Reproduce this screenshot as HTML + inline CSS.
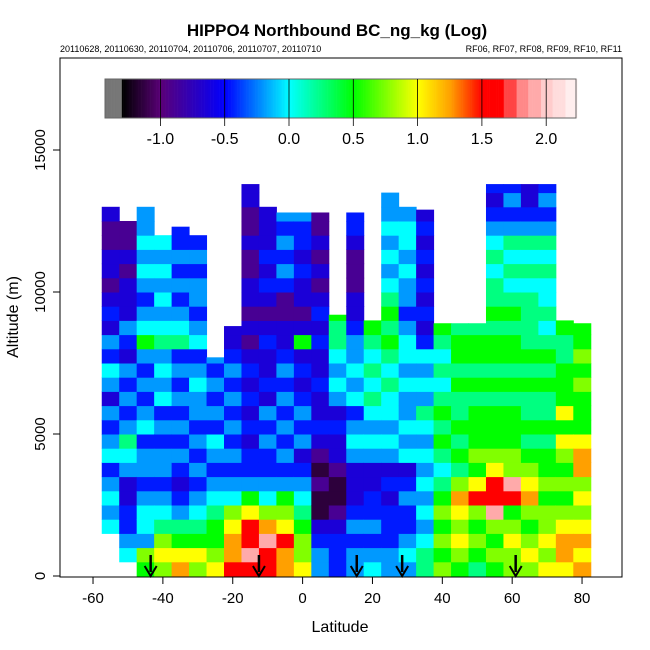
<!DOCTYPE html>
<html><head><meta charset="utf-8">
<style>
body{margin:0;background:#fff;}
svg{display:block;font-family:"Liberation Sans",sans-serif;}
</style></head>
<body>
<svg id="chart" width="650" height="650" viewBox="0 0 650 650">
<rect width="650" height="650" fill="#fff"/>
<g id="heat"></g>
<g id="cbar"></g>
<g id="axes"></g>
<text x="337" y="36" font-size="17" font-weight="bold" text-anchor="middle">HIPPO4 Northbound BC_ng_kg (Log)</text>
<text x="60" y="52" font-size="9">20110628, 20110630, 20110704, 20110706, 20110707, 20110710</text>
<text x="622" y="52" font-size="9" text-anchor="end">RF06, RF07, RF08, RF09, RF10, RF11</text>
<text x="340" y="632" font-size="16" text-anchor="middle">Latitude</text>
<text transform="translate(18,317) rotate(-90)" font-size="16" text-anchor="middle">Altitude (m)</text>
</svg>
<script>
// ---- data ----
const latCenters = [-55,-50,-45,-40,-35,-30,-25,-20,-15,-10,-5,0,5,10,15,20,25,30,35,40,45,50,55,60,65,70,75,80];
const tops = [13000,12500,13000,12000,12300,12000,7700,8800,13800,13000,12800,12800,12800,9200,12800,9000,13500,13000,12900,8900,8900,8900,13800,13800,13800,13800,9000,8900];
const bottoms = [1500,500,0,0,0,0,0,0,0,0,0,0,0,0,0,0,0,0,0,0,0,0,0,0,0,0,0,0];
// per-column profiles, 500 m bins from ground up (groups of 4 bins = 2000 m)
const profiles = [
"6765 4543 5434 2453 4232 1221 1211",
"6543 3224 5643 4342 3422 2121 1111",
"7845 5434 4354 3434 7543 4545 4434",
"8986 5434 4343 5454 6545 4545 3433",
"o976 4323 4343 4343 6543 4343 3433",
"8976 5434 3434 4543 5434 4343 4343",
"9877 6543 4534 3434 3333 3333 3333",
"roo9 8543 4343 4343 2212 2222 2222",
"rprr 9743 3232 3232 1212 2112 1122",
"rrpo 8543 3434 2322 3212 3232 2222",
"oor9 8743 4343 4343 2211 3434 3434",
"9887 6543 2434 3232 7212 2323 3434",
"4432 0010 1232 2322 3232 1212 1122",
"3332 1001 2232 4545 6676 6666 6666",
"4434 3222 4543 5454 4322 1112 3344",
"5434 3322 4545 6565 6776 7676 6767",
"4433 3232 4545 5656 7676 5454 5445",
"4543 3432 5454 4545 5434 4545 5454",
"6654 5454 5456 4545 3232 3232 3232",
"8787 8765 6767 6565 6767 6666 6666",
"7898 9o86 7676 6767 7676 6666 6666",
"6787 8r97 8777 6767 7676 6767 6666",
"7878 prr9 8777 6767 7676 6565 4323",
"8898 7rp8 8777 6767 7676 5656 4343",
"8987 8o98 7676 6767 6666 5656 4322",
"9898 8787 7676 6767 6565 5656 4343",
"9oo9 8787 8979 7776 6767 6666 6666",
"o9o9 898o o977 7878 7777 6666 6666"
];
const levelSymbols = ["0","1","2","3","4","5","6","7","8","9","o","r","p"];
const levelValues  = [-1.15,-0.9,-0.65,-0.45,-0.2,0.0,0.25,0.5,0.75,1.0,1.25,1.5,1.9];
const arrowLats = [-43.5,-12.5,15.5,28.5,61];
const xTicks = [-60,-40,-20,0,20,40,60,80];
const yTicks = [0,5000,10000,15000];
const cbTicks = [-1.0,-0.5,0.0,0.5,1.0,1.5,2.0];
const cbLabels = ["-1.0","-0.5","0.0","0.5","1.0","1.5","2.0"];

// ---- scales ----
const X0=60,X1=622,Y0=58,Y1=577;
const xs = lat => 302.6 + lat*3.493;
const ys = alt => 576 - alt*0.0284;
const cbx = v => 289 + v*128.6;
const NS="http://www.w3.org/2000/svg";
function el(tag, attrs, parent){const e=document.createElementNS(NS,tag);for(const k in attrs)e.setAttribute(k,attrs[k]);parent.appendChild(e);return e;}

const stops=[[-1.3,[0,0,0]],[-1.0,[90,0,120]],[-0.5,[0,0,255]],[-0.25,[0,128,255]],[0,[0,255,255]],[0.5,[0,255,0]],[0.85,[180,255,0]],[1.0,[255,255,0]],[1.25,[255,160,0]],[1.5,[255,0,0]]];
function color(v){
  if(v<-1.3)return "#777";
  if(v>=1.67){const p=["#ff4444","#ff8888","#ffaaaa","#ffcccc","#ffdddd","#ffeeee"];return p[Math.min(5,Math.floor((v-1.67)/0.094))];}
  if(v>=1.5)return "#ff0000";
  for(let i=0;i<stops.length-1;i++){const a=stops[i],b=stops[i+1];if(v<=b[0]){const t=(v-a[0])/(b[0]-a[0]);const c=a[1].map((x,j)=>Math.round(x+(b[1][j]-x)*t));return `rgb(${c})`;}}
  return "#ff0000";
}

// ---- heatmap ----
const heat=document.getElementById('heat');
latCenters.forEach((lat,ci)=>{
  const prof=profiles[ci].replace(/\s+/g,'');
  for(let r=0;r<28;r++){
    const lo=r*500, hi=(r+1)*500;
    if(hi<=bottoms[ci]||lo>=tops[ci])continue;
    const sym=prof[r]||prof[prof.length-1];
    const v=levelValues[levelSymbols.indexOf(sym)];
    const a=Math.max(lo,bottoms[ci]), b=Math.min(hi,tops[ci]);
    const x0=xs(lat-2.5), x1=xs(lat+2.5)+0.5;
    const rc=el('rect',{x:x0,y:ys(b),width:x1-x0,height:ys(a)-ys(b)+0.5,fill:color(v)},heat);
    
    
  }
});
arrowLats.forEach(lat=>{
  const g=el('g',{},heat);
  
  
  const x=xs(lat);
  el('line',{x1:x,y1:555,x2:x,y2:572,stroke:"#000","stroke-width":2.5},g);
  el('path',{d:`M${x-6},${566} L${x},${576} L${x+6},${566}`,fill:"none",stroke:"#000","stroke-width":2},g);
});

// ---- colorbar ----
const cb=document.getElementById('cbar');
for(let v=-1.43;v<2.23;v+=0.01){
  const r=el('rect',{x:cbx(v),y:79,width:1.6,height:39,fill:color(v)},cb);
  
  
}
el('rect',{x:105,y:79,width:471,height:39,fill:"none",stroke:"#666","stroke-width":1},cb);
cbTicks.forEach((t,i)=>{
  const l=el('line',{x1:cbx(t),y1:79,x2:cbx(t),y2:126,stroke:"#000","stroke-width":0.8},cb);
  
  
  const tx=el('text',{x:cbx(t),y:144,"font-size":16,"text-anchor":"middle"},cb);
  tx.textContent=cbLabels[i];
  
  
});

// ---- axes ----
const ax=document.getElementById('axes');
el('rect',{x:X0,y:Y0,width:X1-X0,height:Y1-Y0,fill:"none",stroke:"#000","stroke-width":1},ax);
xTicks.forEach(t=>{
  const l=el('line',{x1:xs(t),y1:Y1,x2:xs(t),y2:Y1+7,stroke:"#000"},ax);
  
  
  const tx=el('text',{x:xs(t),y:603,"font-size":15,"text-anchor":"middle"},ax);
  tx.textContent=String(t);
  
  
});
yTicks.forEach(t=>{
  const l=el('line',{x1:X0,y1:ys(t),x2:X0-7,y2:ys(t),stroke:"#000"},ax);
  
  
  const tx=el('text',{transform:`translate(45,${ys(t)}) rotate(-90)`,"font-size":15,"text-anchor":"middle"},ax);
  tx.textContent=String(t);
  
  
});
</script>
</body></html>
